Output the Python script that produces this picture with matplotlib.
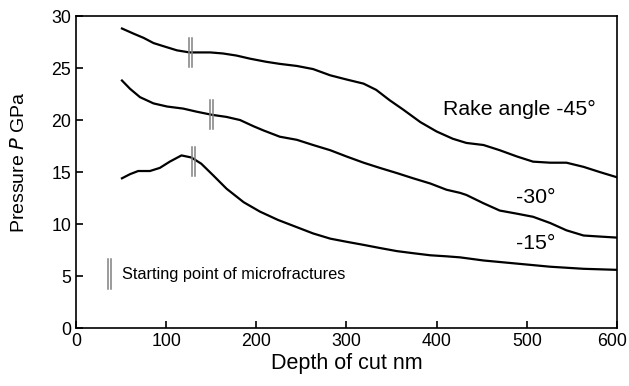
import numpy as np
import matplotlib.pyplot as plt
import matplotlib.transforms as mtransforms

plt.rcParams['font.family'] = ['Liberation Sans', 'DejaVu Sans']

# Rake angle -45 deg
x45 = [51, 64, 75, 86, 97, 112, 126, 149, 163, 178, 193, 211, 226, 245, 263, 282, 300,
       319, 333, 348, 363, 382, 400, 418, 433, 452, 470, 489, 507, 526, 544, 563, 581, 600]
p45 = [28.8, 28.3, 27.9, 27.4, 27.1, 26.7, 26.5, 26.5, 26.4, 26.2, 25.9, 25.6, 25.4, 25.2, 24.9, 24.3, 23.9,
       23.5, 22.9, 21.9, 21.0, 19.8, 18.9, 18.2, 17.8, 17.6, 17.1, 16.5, 16.0, 15.9, 15.9, 15.5, 15.0, 14.5]

# Rake angle -30 deg
x30 = [51, 60, 71, 86, 101, 119, 134, 151, 167, 182, 197, 208, 226, 245, 263, 282, 300,
       319, 337, 356, 374, 393, 411, 426, 433, 452, 470, 489, 507, 526, 544, 563, 581, 600]
p30 = [23.8, 23.0, 22.2, 21.6, 21.3, 21.1, 20.8, 20.5, 20.3, 20.0, 19.4, 19.0, 18.4, 18.1, 17.6, 17.1, 16.5,
       15.9, 15.4, 14.9, 14.4, 13.9, 13.3, 13.0, 12.8, 12.0, 11.3, 11.0, 10.7, 10.1, 9.4, 8.9, 8.8, 8.7]

# Rake angle -15 deg
x15 = [51, 60, 69, 82, 93, 104, 117, 128, 139, 152, 167, 186, 204, 224, 245, 263, 282, 300,
       319, 337, 356, 374, 393, 411, 426, 452, 489, 526, 563, 600]
p15 = [14.4, 14.8, 15.1, 15.1, 15.4, 16.0, 16.6, 16.4, 15.8, 14.7, 13.4, 12.1, 11.2, 10.4, 9.7, 9.1, 8.6, 8.3,
       8.0, 7.7, 7.4, 7.2, 7.0, 6.9, 6.8, 6.5, 6.2, 5.9, 5.7, 5.6]

# starting point of microfractures
crack_x = [127, 150.5, 130]
crack_p = [26.5, 20.5, 16.0]

fig = plt.figure(figsize=(6.29, 3.86), dpi=100)
ax = fig.add_axes([0.1208, 0.150, 0.860, 0.8085])

for xs, ps in [(x45, p45), (x30, p30), (x15, p15)]:
    ax.plot(xs, ps, color='black', lw=1.6, solid_joinstyle='round')

def crack_mark(x, y, h=1.4):
    for dx in (-1.6, 1.6):
        ax.plot([x + dx, x + dx], [y - h, y + h], color='#808080', lw=1.1)

for cx, cp in zip(crack_x, crack_p):
    crack_mark(cx, cp)

crack_mark(37.5, 5.2)
ax.text(51, 5.2, 'Starting point of microfractures', fontsize=11.8, va='center')

ax.text(407, 21.0, 'Rake angle -45°', fontsize=15.3, va='center')
ax.text(488, 12.6, '-30°', fontsize=15.3, va='center')
ax.text(488, 8.1, '-15°', fontsize=15.3, va='center')

ax.set_xlim(0, 600)
ax.set_ylim(0, 30)
ax.set_xticks(range(0, 601, 100))
ax.set_yticks(range(0, 31, 5))
ax.tick_params(direction='in', labelsize=12.8, length=5, width=1.2)
for s in ax.spines.values():
    s.set_linewidth(1.2)
ax.set_xlabel('Depth of cut nm', fontsize=15.5, labelpad=2)
ax.set_ylabel('Pressure $\\it{P}$ GPa', fontsize=14)
ax.yaxis.set_label_coords(-0.088, 0.532)

# the last x tick label sits a little left of its tick, as in the original
fig.canvas.draw()
last = ax.get_xticklabels()[-1]
last.set_transform(last.get_transform() + mtransforms.ScaledTranslation(-5 / 100, 0, fig.dpi_scale_trans))

fig.savefig('out.png', dpi=100)
